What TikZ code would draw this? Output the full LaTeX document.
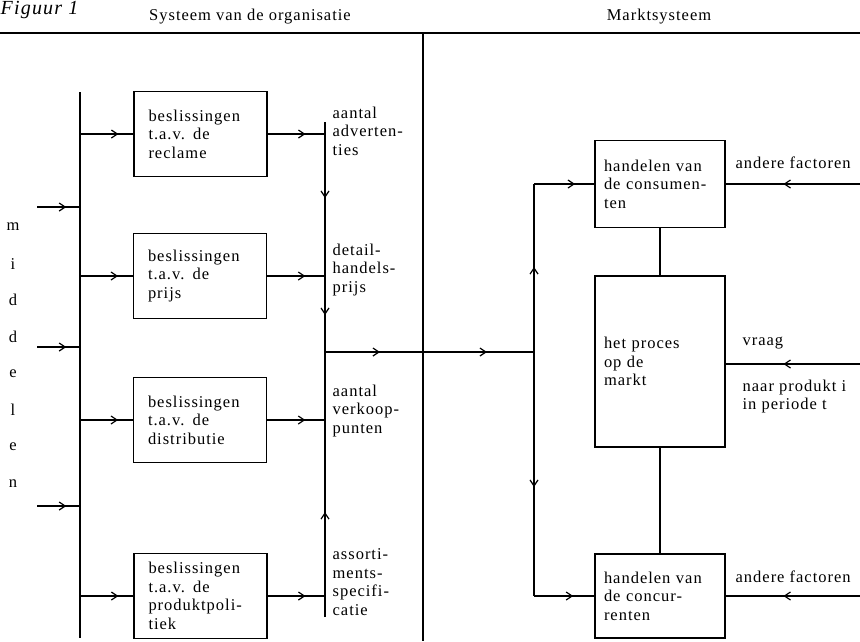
\documentclass[tikz,border=0pt]{standalone}
\usepackage{fontspec}
\setmainfont{Liberation Serif}[LetterSpace=6]
\usetikzlibrary{arrows.meta,decorations.markings}

\tikzset{
  every node/.style={font=\fontsize{16.5}{18.5}\selectfont, inner sep=0pt},
  barb/.tip={Straight Barb[length=6pt,width=8pt,line width=1.2pt]},
  midarr/.style={postaction={decorate},
    decoration={markings,mark=at position #1 with {\arrow{barb}}}},
  midarrtwo/.style n args={2}{postaction={decorate},
    decoration={markings,
      mark=at position #1 with {\arrow{barb}},
      mark=at position #2 with {\arrow{barb}}}},
  dbox/.style={draw, line width=1.3pt, align=left, text width=104pt,
    inner xsep=14.5pt, minimum height=85pt},
  mbox/.style={draw, line width=1.3pt, align=left, text width=112pt,
    inner xsep=9pt},
  lbl/.style={align=left, anchor=north west}
}

\begin{document}
\begin{tikzpicture}[x=1pt,y=-1pt,line width=1.3pt]
\useasboundingbox (0,0) rectangle (860,641);

% koppen
\node[font=\itshape\fontsize{20}{24}\selectfont, anchor=base west] (fig) at (0,14) {Figuur 1};
\node (orgT) at (250,17) {Systeem van de organisatie};
\node (mktT) at (659,17) {Marktsysteem};
\coordinate (topL) at (0,33);
\coordinate (topR) at (860,33);
\draw (topL) -- (topR);
\coordinate (divT) at (423,33);
\coordinate (divB) at (423,641);
\draw (divT) -- (divB);

% middelen
\foreach \l [count=\i] in {m,i,d,d,e,l,e,n}
  \node (lt\i) at (13,{190.5+36.6*\i}) {\l};
\coordinate (busT) at (80,92);
\coordinate (busB) at (80,638);
\draw (busT) -- (busB);
\foreach \y/\n in {207/a,347/b,506/c}{
  \coordinate (in\n) at (37,\y);
  \draw[midarr=0.68] (in\n) -- (in\n -| busT);
}

% beslissingen
\node[dbox] (recl) at (200.5,134) {beslissingen\\t.a.v. de\\reclame};
\node[dbox] (prijs) at (200,276) {beslissingen\\t.a.v. de\\prijs};
\node[dbox] (distr) at (200,420) {beslissingen\\t.a.v. de\\distributie};
\node[dbox] (prod) at (200.5,596) {beslissingen\\t.a.v. de\\produktpoli-\\tiek};

\coordinate (colT) at (325,122);
\coordinate (colB) at (325,617);
\coordinate (join) at (325,352);
\draw[midarrtwo={76pt}{193pt}] (colT) -- (join);
\draw[midarr=105pt] (colB) -- (join);

\foreach \b in {recl,prijs,distr,prod}{
  \draw[midarr=0.72] (\b.west -| busT) -- (\b.west);
  \draw[midarr=0.66] (\b.east) -- (\b.east -| colT);
}

\node[lbl] (advL) at (332,106) {aantal\\adverten-\\ties};
\node[lbl] (prijsL) at (332,243) {detail-\\handels-\\prijs};
\node[lbl] (verkL) at (332,384) {aantal\\verkoop-\\punten};
\node[lbl] (assL) at (332,548) {assorti-\\ments-\\specifi-\\catie};

% markt
\node[mbox, minimum height=87pt] (cons) at (660,184) {handelen van\\de consumen-\\ten};
\node[mbox, minimum height=171pt] (proc) at (660,361.5) {het proces\\op de\\markt};
\node[mbox, minimum height=84pt] (conc) at (660,596) {handelen van\\de concur-\\renten};
\draw (cons.south) -- (proc.north);
\draw (proc.south) -- (conc.north);

\coordinate (split) at (534,352);
\draw[midarrtwo={55pt}{162pt}] (join) -- (split);
\draw[midarr=85pt] (split) -- (split |- cons.west);
\draw[midarr=0.68] (split |- cons.west) -- (cons.west);
\draw[midarr=135pt] (split) -- (split |- conc.west);
\draw[midarr=0.65] (split |- conc.west) -- (conc.west);

\coordinate (afA) at (860,184);
\coordinate (vr) at (860,364);
\coordinate (afB) at (860,596);
\draw[midarr=0.57] (afA) -- (cons.east);
\draw[midarr=0.57] (vr) -- (vr -| proc.east);
\draw[midarr=0.57] (afB) -- (conc.east);
\node[anchor=west] (afAL) at (735,163) {andere factoren};
\node[anchor=west] (vrL) at (742,343) {vraag};
\node[lbl] (naarL) at (742,379) {naar produkt i\\in periode t};
\node[anchor=west] (afBL) at (735,577) {andere factoren};
\end{tikzpicture}
\end{document}
